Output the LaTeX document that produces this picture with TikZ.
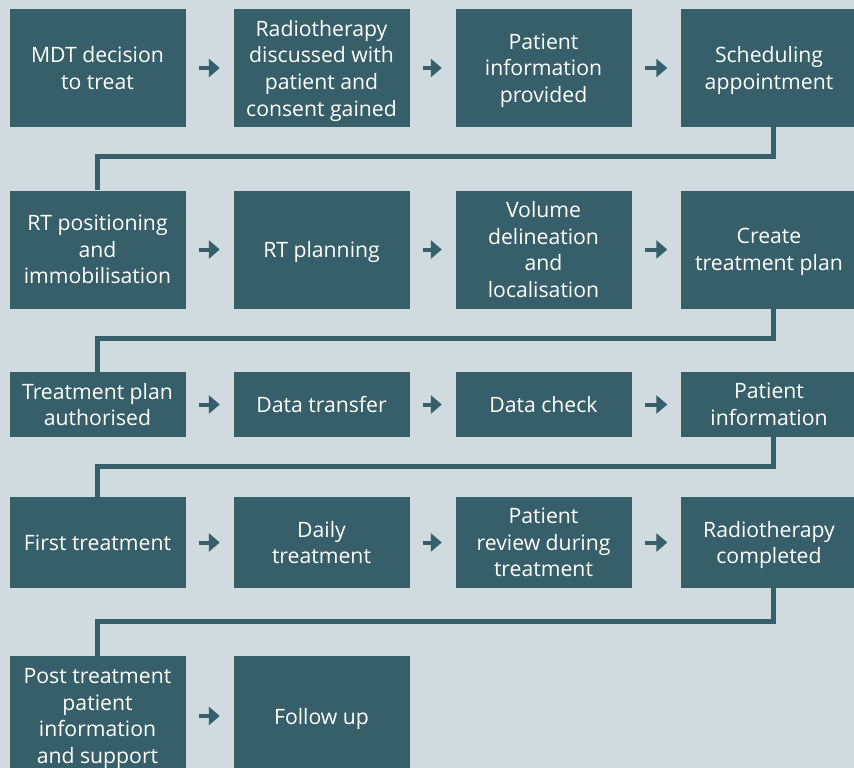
\documentclass[tikz,border=0pt]{standalone}
\usepackage{fontspec}
\setmainfont{Open Sans}
\usetikzlibrary{arrows.meta}
\definecolor{teal}{RGB}{54,95,105}
\definecolor{paper}{RGB}{208,219,224}

\begin{document}
\begin{tikzpicture}[x=1pt, y=-1pt,
  box/.style={fill=teal, text=white, align=center, minimum width=176pt, inner sep=0pt,
    font=\fontsize{21.2}{26.7}\selectfont, text depth=-2pt},
  tall/.style={box, minimum height=118pt},
  mid/.style={box, minimum height=91pt},
  low/.style={box, minimum height=65pt},
  flowarrow/.style={teal, line width=4pt, -{Triangle[length=11pt,width=18pt]},
    shorten <=13pt, shorten >=13.5pt},
  link/.style={teal, line width=5pt}]
\clip (0,0) rectangle (854,768);
\fill[paper] (0,0) rectangle (854,768);
% row 1
\node[tall] (mdt)     at (97.5,68) {MDT decision\\to treat};
\node[tall] (consent) at (321.5,68) {Radiotherapy\\discussed with\\patient and\\consent gained};
\node[tall] (info)    at (543.5,68) {Patient\\information\\provided};
\node[tall] (sched)   at (769,68) {Scheduling\\appointment};
% row 2
\node[tall] (pos)    at (97.5,249.5) {RT positioning\\and\\immobilisation};
\node[tall] (plan)   at (321.5,249.5) {RT planning};
\node[tall] (delin)  at (543.5,249.5) {Volume\\delineation\\and\\localisation};
\node[tall] (create) at (769,249.5) {Create\\treatment plan};
% row 3
\node[low] (auth)     at (97.5,404.5) {Treatment plan\\authorised};
\node[low] (transfer) at (321.5,404.5) {Data transfer};
\node[low] (check)    at (543.5,404.5) {Data check};
\node[low] (pinfo)    at (769,404.5) {Patient\\information};
% row 4
\node[mid] (first)  at (97.5,542.5) {First treatment};
\node[mid] (daily)  at (321.5,542.5) {Daily\\treatment};
\node[mid] (review) at (543.5,542.5) {Patient\\review during\\treatment};
\node[mid] (done)   at (769,542.5) {Radiotherapy\\completed};
% row 5
\node[box, minimum height=120pt] (post)   at (97.5,716) {Post treatment\\patient\\information\\and support};
\node[box, minimum height=120pt] (follow) at (321.5,716) {Follow up};

\foreach \a/\b in {mdt/consent, consent/info, info/sched,
                   pos/plan, plan/delin, delin/create,
                   auth/transfer, transfer/check, check/pinfo,
                   first/daily, daily/review, review/done,
                   post/follow}
  \draw[flowarrow] (\a.east) -- (\b.west);

\draw[link] ([xshift=4pt]sched.south)  -- ++(0,29) -| (pos.north);
\draw[link] ([xshift=4pt]create.south) -- ++(0,30) -| (auth.north);
\draw[link] ([xshift=4pt]pinfo.south)  -- ++(0,29) -| (first.north);
\draw[link] ([xshift=4pt]done.south)   -- ++(0,33) -| (post.north);
\end{tikzpicture}
\end{document}
